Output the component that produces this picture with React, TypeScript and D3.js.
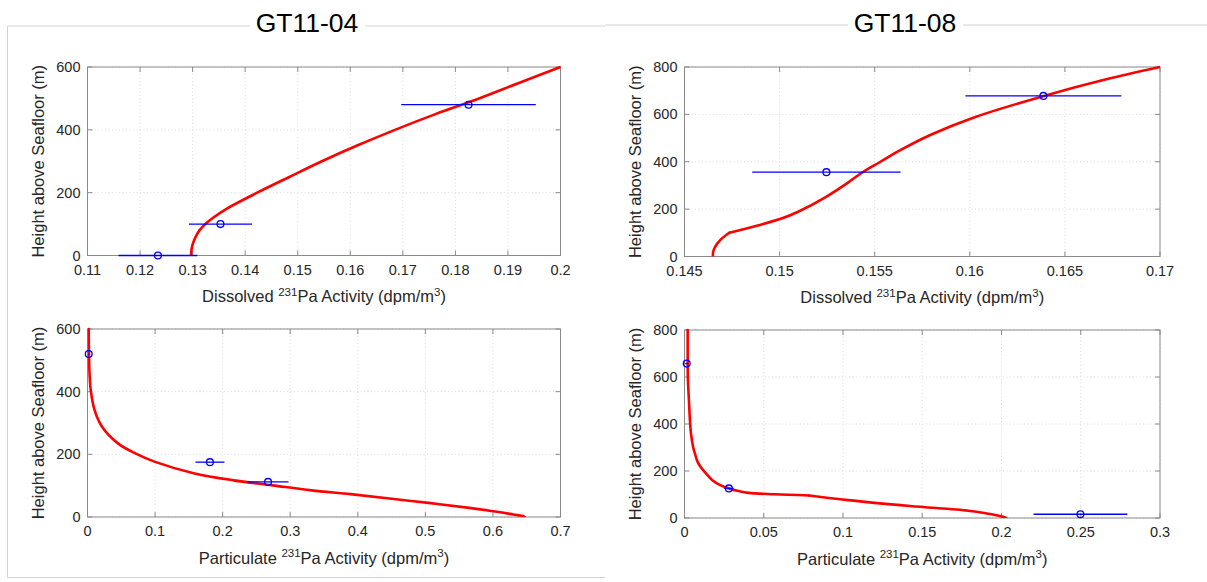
import React from "react";
import * as d3 from "d3";

const W = 1207;
const H = 582;
const FONT = "'Liberation Sans', Arial, Helvetica, sans-serif";

// ---- GT11-04 : dissolved 231Pa ----
const gt04DissModelHeight = [600, 550, 500, 450, 400, 350, 300, 250, 200, 150, 120, 100, 80, 60, 40, 20, 0];
const gt04DissModelValue = [0.2, 0.1922, 0.1845, 0.1762, 0.1685, 0.1613, 0.1546, 0.1484, 0.1423, 0.1366, 0.1339, 0.1324, 0.1313, 0.1306, 0.1301, 0.1298, 0.1297];
const gt04DissObsHeight = [0, 100, 480];
const gt04DissObsValue = [0.1234, 0.1353, 0.1825];
const gt04DissObsErr = [0.0075, 0.006, 0.0128];
const gt04DissXTicks = [0.11, 0.12, 0.13, 0.14, 0.15, 0.16, 0.17, 0.18, 0.19, 0.2];
const gt04DissXLabels = ["0.11", "0.12", "0.13", "0.14", "0.15", "0.16", "0.17", "0.18", "0.19", "0.2"];
const gt04YTicks = [0, 200, 400, 600];
const gt04YLabels = ["0", "200", "400", "600"];

// ---- GT11-08 : dissolved 231Pa ----
const gt08DissModelHeight = [800, 746, 678, 584, 514, 450, 400, 360, 310, 250, 190, 160, 130, 115, 100, 70, 40, 20, 0];
const gt08DissModelValue = [0.17, 0.16707, 0.1639, 0.16011, 0.15795, 0.15637, 0.1553, 0.15444, 0.15356, 0.1524, 0.151, 0.1501, 0.1488, 0.1481, 0.14735, 0.14689, 0.1466, 0.14651, 0.14649];
const gt08DissObsHeight = [356, 678];
const gt08DissObsValue = [0.15246, 0.16387];
const gt08DissObsErr = [0.0039, 0.0041];
const gt08DissCorner = [100];
const gt08DissXTicks = [0.145, 0.15, 0.155, 0.16, 0.165, 0.17];
const gt08DissXLabels = ["0.145", "0.15", "0.155", "0.16", "0.165", "0.17"];
const gt08YTicks = [0, 200, 400, 600, 800];
const gt08YLabels = ["0", "200", "400", "600", "800"];

// ---- GT11-04 : particulate 231Pa ----
const gt04PartModelHeight = [600, 533, 458, 405, 341, 288, 235, 203, 176, 139, 117, 101, 85, 73, 59, 45, 30, 16, 8, 2, 0];
const gt04PartModelValue = [0.0018, 0.0021, 0.003, 0.0048, 0.0105, 0.0215, 0.045, 0.0708, 0.1, 0.1586, 0.2163, 0.2739, 0.3316, 0.3892, 0.4468, 0.5045, 0.5621, 0.6082, 0.63, 0.6457, 0.647];
const gt04PartObsHeight = [520, 175, 112];
const gt04PartObsValue = [0.0018, 0.1812, 0.2672];
const gt04PartObsErr = [0.001, 0.0215, 0.0303];
const gt04PartXTicks = [0, 0.1, 0.2, 0.3, 0.4, 0.5, 0.6, 0.7];
const gt04PartXLabels = ["0", "0.1", "0.2", "0.3", "0.4", "0.5", "0.6", "0.7"];

// ---- GT11-08 : particulate 231Pa ----
const gt08PartModelHeight = [800, 700, 600, 500, 420, 359, 300, 274, 240, 217, 190, 161, 140, 126, 115, 107, 101, 96, 76, 51, 31, 20, 13, 5, 0];
const gt08PartModelValue = [0.002, 0.002, 0.0021, 0.0028, 0.0034, 0.0041, 0.0055, 0.0066, 0.0082, 0.0102, 0.0135, 0.0176, 0.0225, 0.028, 0.034, 0.0405, 0.0567, 0.0786, 0.1032, 0.1423, 0.179, 0.19, 0.196, 0.201, 0.2029];
const gt08PartObsHeight = [657, 126, 16];
const gt08PartObsValue = [0.0014, 0.028, 0.2498];
const gt08PartObsErr = [0.001, 0.003, 0.0296];
const gt08PartCorner = [96];
const gt08PartXTicks = [0, 0.05, 0.1, 0.15, 0.2, 0.25, 0.3];
const gt08PartXLabels = ["0", "0.05", "0.1", "0.15", "0.2", "0.25", "0.3"];

type PanelProps = {
  box: { left: number; right: number; top: number; bottom: number };
  xDomain: [number, number];
  yDomain: [number, number];
  xTicks: number[];
  xLabels: string[];
  yTicks: number[];
  yLabels: string[];
  modelHeight: number[];
  modelValue: number[];
  corners?: number[];
  obsHeight: number[];
  obsValue: number[];
  obsErr: number[];
  kind: string;
  clipId: string;
};

function Panel(p: PanelProps) {
  const { box } = p;
  const x = d3.scaleLinear().domain(p.xDomain).range([box.left, box.right]);
  const y = d3.scaleLinear().domain(p.yDomain).range([box.bottom, box.top]);
  const pts = p.modelHeight.map((h, i) => [p.modelValue[i], h] as [number, number]);

  // split the profile at sharp corners so each piece is smoothed on its own
  const pieces: [number, number][][] = [];
  let cur: [number, number][] = [];
  pts.forEach((pt) => {
    cur.push(pt);
    if ((p.corners || []).includes(pt[1])) {
      pieces.push(cur);
      cur = [pt];
    }
  });
  if (cur.length > 1) pieces.push(cur);

  const line = d3
    .line<[number, number]>()
    .x((d) => x(d[0]))
    .y((d) => y(d[1]))
    .curve(d3.curveCatmullRom.alpha(0.5));
  const tickLen = 5;
  const axisColor = "#8a8a8a";
  const textColor = "#262626";
  const cx = (box.left + box.right) / 2;
  const cy = (box.top + box.bottom) / 2;
  return (
    <g>
      <defs>
        <clipPath id={p.clipId}>
          <rect x={box.left} y={box.top - 2} width={box.right - box.left} height={box.bottom - box.top + 2} />
        </clipPath>
      </defs>
      {/* grid */}
      {p.xTicks.map((t, i) => (
        <line key={"gx" + i} x1={x(t)} x2={x(t)} y1={box.top} y2={box.bottom} stroke="#d4d4d4" strokeWidth={0.8} strokeDasharray="1,2.5" />
      ))}
      {p.yTicks.map((t, i) => (
        <line key={"gy" + i} x1={box.left} x2={box.right} y1={y(t)} y2={y(t)} stroke="#d4d4d4" strokeWidth={0.8} strokeDasharray="1,2.5" />
      ))}
      {/* ticks */}
      {p.xTicks.map((t, i) => (
        <g key={"tx" + i}>
          <line x1={x(t)} x2={x(t)} y1={box.bottom} y2={box.bottom - tickLen} stroke={axisColor} />
          <line x1={x(t)} x2={x(t)} y1={box.top} y2={box.top + tickLen} stroke={axisColor} />
          <text x={x(t)} y={box.bottom + 19} textAnchor="middle" fontSize={14.5} fill={textColor} fontFamily={FONT}>
            {p.xLabels[i]}
          </text>
        </g>
      ))}
      {p.yTicks.map((t, i) => (
        <g key={"ty" + i}>
          <line x1={box.left} x2={box.left + tickLen} y1={y(t)} y2={y(t)} stroke={axisColor} />
          <line x1={box.right} x2={box.right - tickLen} y1={y(t)} y2={y(t)} stroke={axisColor} />
          <text x={box.left - 7} y={y(t) + 5} textAnchor="end" fontSize={14.5} fill={textColor} fontFamily={FONT}>
            {p.yLabels[i]}
          </text>
        </g>
      ))}
      <rect x={box.left} y={box.top} width={box.right - box.left} height={box.bottom - box.top} fill="none" stroke={axisColor} strokeWidth={1} />
      {/* model profile */}
      {pieces.map((piece, i) => (
        <path
          key={"m" + i}
          d={line(piece) || ""}
          fill="none"
          stroke="#ff0000"
          strokeWidth={2.6}
          strokeLinejoin="round"
          strokeLinecap="round"
          clipPath={`url(#${p.clipId})`}
        />
      ))}
      {/* observations with horizontal error bars */}
      {p.obsValue.map((v, i) => (
        <g key={"o" + i}>
          <line
            x1={x(v - p.obsErr[i])}
            x2={x(v + p.obsErr[i])}
            y1={y(p.obsHeight[i])}
            y2={y(p.obsHeight[i])}
            stroke="#0000ff"
            strokeWidth={1.3}
          />
          <circle cx={x(v)} cy={y(p.obsHeight[i])} r={3.4} fill="none" stroke="#0000ff" strokeWidth={1.3} />
        </g>
      ))}
      {/* axis titles */}
      <text
        transform={`translate(${box.left - 44},${cy}) rotate(-90)`}
        textAnchor="middle"
        fontSize={16.5}
        fill={textColor}
        fontFamily={FONT}
      >
        Height above Seafloor (m)
      </text>
      <text x={cx} y={box.bottom + 46.5} textAnchor="middle" fontSize={16.5} fill={textColor} fontFamily={FONT}>
        {p.kind + " "}
        <tspan fontSize={11.5} dy={-6.5}>231</tspan>
        <tspan dy={6.5}>Pa Activity (dpm/m</tspan>
        <tspan fontSize={11.5} dy={-6.5}>3</tspan>
        <tspan dy={6.5}>)</tspan>
      </text>
    </g>
  );
}

export default function App() {
  const frame = "#d2d2d2";
  return (
    <svg width={W} height={H} style={{ position: "absolute", left: 0, top: 0, background: "#fff" }}>
      <rect x={0} y={0} width={W} height={H} fill="#fff" />
      {/* figure frames */}
      <line x1={7.5} x2={605} y1={26} y2={26} stroke={frame} />
      <line x1={7.5} x2={7.5} y1={26} y2={577.5} stroke={frame} />
      <line x1={7.5} x2={605} y1={577.5} y2={577.5} stroke={frame} />
      <line x1={605} x2={W} y1={25} y2={25} stroke={frame} />

      {/* station titles */}
      <rect x={250} y={8} width={115} height={28} fill="#fff" />
      <text x={307} y={31.5} textAnchor="middle" fontSize={26.5} fontFamily={FONT} fill="#000">
        GT11-04
      </text>
      <rect x={848} y={8} width={115} height={28} fill="#fff" />
      <text x={905} y={31.5} textAnchor="middle" fontSize={26.5} fontFamily={FONT} fill="#000">
        GT11-08
      </text>

      <Panel
        box={{ left: 87.5, right: 560.5, top: 67, bottom: 255.5 }}
        xDomain={[0.11, 0.2]}
        yDomain={[0, 600]}
        xTicks={gt04DissXTicks}
        xLabels={gt04DissXLabels}
        yTicks={gt04YTicks}
        yLabels={gt04YLabels}
        modelHeight={gt04DissModelHeight}
        modelValue={gt04DissModelValue}
        obsHeight={gt04DissObsHeight}
        obsValue={gt04DissObsValue}
        obsErr={gt04DissObsErr}
        kind="Dissolved"
        clipId="c1"
      />
      <Panel
        box={{ left: 684.5, right: 1160, top: 67, bottom: 256.5 }}
        xDomain={[0.145, 0.17]}
        yDomain={[0, 800]}
        xTicks={gt08DissXTicks}
        xLabels={gt08DissXLabels}
        yTicks={gt08YTicks}
        yLabels={gt08YLabels}
        modelHeight={gt08DissModelHeight}
        modelValue={gt08DissModelValue}
        corners={gt08DissCorner}
        obsHeight={gt08DissObsHeight}
        obsValue={gt08DissObsValue}
        obsErr={gt08DissObsErr}
        kind="Dissolved"
        clipId="c2"
      />
      <Panel
        box={{ left: 87.5, right: 560.5, top: 329, bottom: 517 }}
        xDomain={[0, 0.7]}
        yDomain={[0, 600]}
        xTicks={gt04PartXTicks}
        xLabels={gt04PartXLabels}
        yTicks={gt04YTicks}
        yLabels={gt04YLabels}
        modelHeight={gt04PartModelHeight}
        modelValue={gt04PartModelValue}
        obsHeight={gt04PartObsHeight}
        obsValue={gt04PartObsValue}
        obsErr={gt04PartObsErr}
        kind="Particulate"
        clipId="c3"
      />
      <Panel
        box={{ left: 684.5, right: 1160, top: 330, bottom: 518 }}
        xDomain={[0, 0.3]}
        yDomain={[0, 800]}
        xTicks={gt08PartXTicks}
        xLabels={gt08PartXLabels}
        yTicks={gt08YTicks}
        yLabels={gt08YLabels}
        modelHeight={gt08PartModelHeight}
        modelValue={gt08PartModelValue}
        corners={gt08PartCorner}
        obsHeight={gt08PartObsHeight}
        obsValue={gt08PartObsValue}
        obsErr={gt08PartObsErr}
        kind="Particulate"
        clipId="c4"
      />
    </svg>
  );
}
